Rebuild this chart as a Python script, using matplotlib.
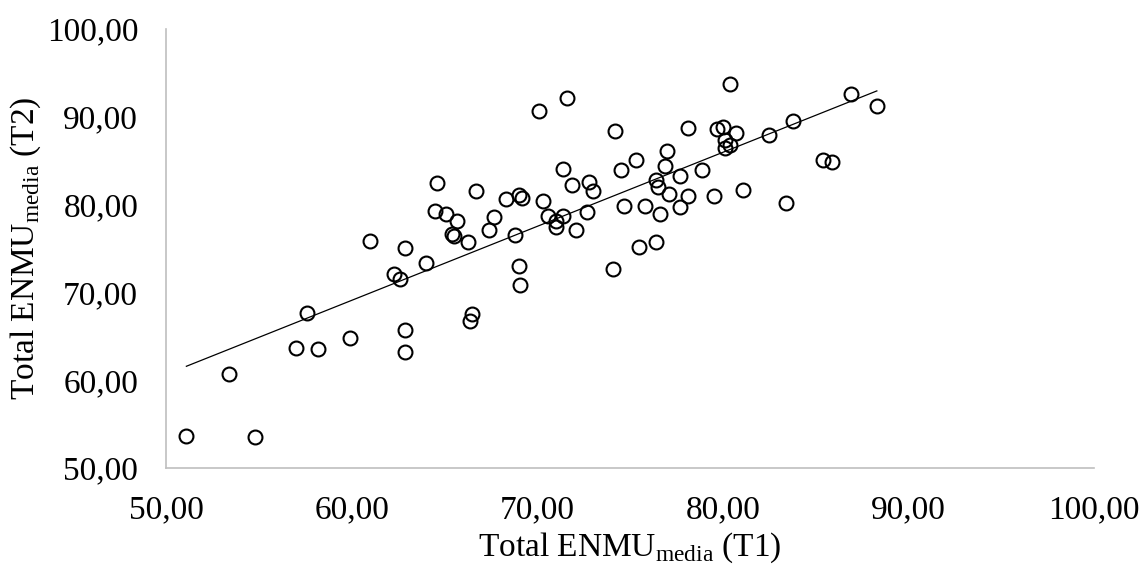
import matplotlib
matplotlib.use("Agg")
import matplotlib.pyplot as plt
import numpy as np

plt.rcParams['font.family'] = ['Liberation Serif', 'DejaVu Serif']
plt.rcParams['mathtext.fontset'] = 'custom'
plt.rcParams['mathtext.rm'] = 'Liberation Serif'

# Data: Total ENMU media, T1 vs T2
t1 = [51.1, 53.4, 54.8, 57.6, 57.0, 58.2, 59.9, 62.9, 62.9, 61.0,
      62.9, 64.0, 62.3, 62.6, 64.6, 66.7, 64.5, 65.1, 65.7, 65.4,
      65.5, 66.3, 67.7, 67.4, 68.3, 69.0, 69.2, 68.8, 70.3, 71.4,
      71.9, 72.8, 73.0, 70.6, 71.4, 71.0, 71.0, 72.1, 72.7, 69.0,
      69.1, 66.5, 66.4, 71.6, 80.4, 86.9, 74.2, 78.1, 79.7, 80.0,
      80.7, 80.1, 80.1, 80.4, 82.5, 83.8, 85.4, 85.9, 77.0, 76.9,
      75.3, 74.5, 78.9, 77.7, 76.4, 76.5, 77.1, 78.1, 79.5, 81.1,
      83.4, 77.7, 76.6, 75.8, 74.7, 75.5, 76.4, 74.1, 88.3, 70.1]
t2 = [53.6, 60.7, 53.5, 67.7, 63.7, 63.6, 64.8, 65.7, 63.2, 75.9,
      75.1, 73.4, 72.1, 71.5, 82.5, 81.5, 79.3, 78.9, 78.1, 76.7,
      76.4, 75.7, 78.6, 77.1, 80.6, 81.1, 80.8, 76.5, 80.4, 84.1,
      82.2, 82.6, 81.5, 78.7, 78.7, 78.1, 77.4, 77.1, 79.1, 73.0,
      70.8, 67.5, 66.7, 92.1, 93.7, 92.6, 88.4, 88.7, 88.6, 88.8,
      88.2, 87.4, 86.5, 86.8, 87.9, 89.5, 85.1, 84.8, 86.1, 84.4,
      85.1, 83.9, 83.9, 83.3, 82.8, 82.0, 81.2, 81.0, 81.0, 81.7,
      80.2, 79.7, 78.9, 79.8, 79.8, 75.2, 75.7, 72.7, 91.2, 90.7]
ticks = [50, 60, 70, 80, 90, 100]

x = np.array(t1)
y = np.array(t2)

fig = plt.figure(figsize=(11.39, 5.67), dpi=100)
ax = fig.add_axes([0.1457, 0.1746, 0.8148, 0.7743])

ax.plot(x, y, linestyle='none', marker='o', ms=10, mfc='none',
        mec='black', mew=1.5, clip_on=False)

# linear trend line
slope, intercept = np.polyfit(x, y, 1)
xs = np.array([x.min(), x.max()])
ax.plot(xs, slope * xs + intercept, color='black', lw=0.9)

ax.set_xlim(50, 100)
ax.set_ylim(50, 100)
ax.set_xticks(ticks)
ax.set_yticks(ticks)
fmt = lambda v: f"{v:.2f}".replace('.', ',')
ax.set_xticklabels([fmt(t) for t in ticks])
ax.set_yticklabels([fmt(t) for t in ticks])
ax.tick_params(length=0, labelsize=24)
ax.tick_params(axis='x', pad=19)
ax.tick_params(axis='y', pad=20)

for s in ['top', 'right']:
    ax.spines[s].set_visible(False)
for s in ['left', 'bottom']:
    ax.spines[s].set_color('#bfbfbf')
    ax.spines[s].set_linewidth(1.2)

ax.set_xlabel(r'Total ENMU$_{\mathrm{media}}$ (T1)', fontsize=24, labelpad=4)
ax.set_ylabel(r'Total ENMU$_{\mathrm{media}}$ (T2)', fontsize=24, labelpad=3)

fig.savefig('out.png', dpi=100)
